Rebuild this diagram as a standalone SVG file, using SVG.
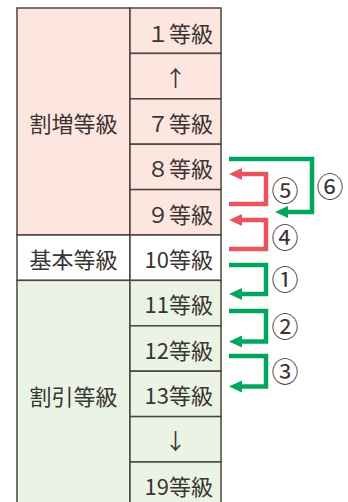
<svg xmlns="http://www.w3.org/2000/svg" width="348" height="502" viewBox="0 0 348 502">
<style>
.t{font-family:"Noto Sans CJK JP","Noto Sans",sans-serif;font-size:22px;fill:#3a3533;dominant-baseline:central}
.r{text-anchor:end}
.m{text-anchor:middle}
.c{font-family:"Noto Sans CJK JP","Noto Sans",sans-serif;font-size:27px;fill:#3a3533;text-anchor:middle;dominant-baseline:central}
.cell{stroke:#4d4540;stroke-width:1.5}
.pk{fill:#fde5e0}
.gr{fill:#ebf4e4}
.wh{fill:#ffffff}
.lg{fill:none;stroke:#00a660;stroke-width:4.5;stroke-linejoin:miter}
.lr{fill:none;stroke:#e9545e;stroke-width:4.5;stroke-linejoin:miter}
.hg{fill:#00a660}
.hr{fill:#e9545e}
</style>
<rect width="348" height="502" fill="#ffffff"/>
<g id="left-column">
<g id="warimashi"><rect class="cell pk" x="17" y="8" width="113" height="227"/><text class="t m" x="73.5" y="122">割増等級</text></g>
<g id="kihon"><rect class="cell wh" x="17" y="235" width="113" height="45.4"/><text class="t m" x="73.5" y="258">基本等級</text></g>
<g id="waribiki"><rect class="cell gr" x="17" y="280.4" width="113" height="230"/><text class="t m" x="73.5" y="395">割引等級</text></g>
</g>
<g id="right-column">
<g id="g1"><rect class="cell pk" x="130" y="8" width="91" height="45.4"/><text class="t r" x="213" y="31.5">１等級</text></g>
<g id="gup"><rect class="cell pk" x="130" y="53.4" width="91" height="45.4"/><text class="t m" x="175.5" y="76">↑</text></g>
<g id="g7"><rect class="cell pk" x="130" y="98.8" width="91" height="45.4"/><text class="t r" x="213" y="122">７等級</text></g>
<g id="g8"><rect class="cell pk" x="130" y="144.2" width="91" height="45.4"/><text class="t r" x="213" y="167">８等級</text></g>
<g id="g9"><rect class="cell pk" x="130" y="189.6" width="91" height="45.4"/><text class="t r" x="213" y="212.5">９等級</text></g>
<g id="g10"><rect class="cell wh" x="130" y="235" width="91" height="45.4"/><text class="t r" x="213" y="258">10等級</text></g>
<g id="g11"><rect class="cell gr" x="130" y="280.4" width="91" height="45.4"/><text class="t r" x="213" y="303">11等級</text></g>
<g id="g12"><rect class="cell gr" x="130" y="325.8" width="91" height="45.4"/><text class="t r" x="213" y="348.5">12等級</text></g>
<g id="g13"><rect class="cell gr" x="130" y="371.2" width="91" height="45.4"/><text class="t r" x="213" y="394">13等級</text></g>
<g id="gdown"><rect class="cell gr" x="130" y="416.6" width="91" height="45.4"/><text class="t m" x="175.5" y="439">↓</text></g>
<g id="g19"><rect class="cell gr" x="130" y="462" width="91" height="50"/><text class="t r" x="213" y="484.5">19等級</text></g>
</g>
<g id="connectors">
<path class="lg" d="M229,159 H312 V212 H287"/><polygon class="hg" points="275,212 288,206 288,218"/>
<path class="lr" d="M229,204 H266 V174 H241"/><polygon class="hr" points="229,174 242,168 242,180"/>
<path class="lr" d="M229,249 H266 V220 H241"/><polygon class="hr" points="229,220 242,214 242,226"/>
<path class="lg" d="M229,265 H266 V294 H241"/><polygon class="hg" points="229,294 242,288 242,300"/>
<path class="lg" d="M229,311 H266 V341.5 H241"/><polygon class="hg" points="229,341.5 242,335.5 242,347.5"/>
<path class="lg" d="M229,356 H266 V386.5 H241"/><polygon class="hg" points="229,386.5 242,380.5 242,392.5"/>
</g>
<g id="labels">
<text class="c" x="285" y="189">⑤</text>
<text class="c" x="330" y="185">⑥</text>
<text class="c" x="285" y="236">④</text>
<text class="c" x="285" y="278">①</text>
<text class="c" x="285" y="325">②</text>
<text class="c" x="285" y="370">③</text>
</g>
</svg>
